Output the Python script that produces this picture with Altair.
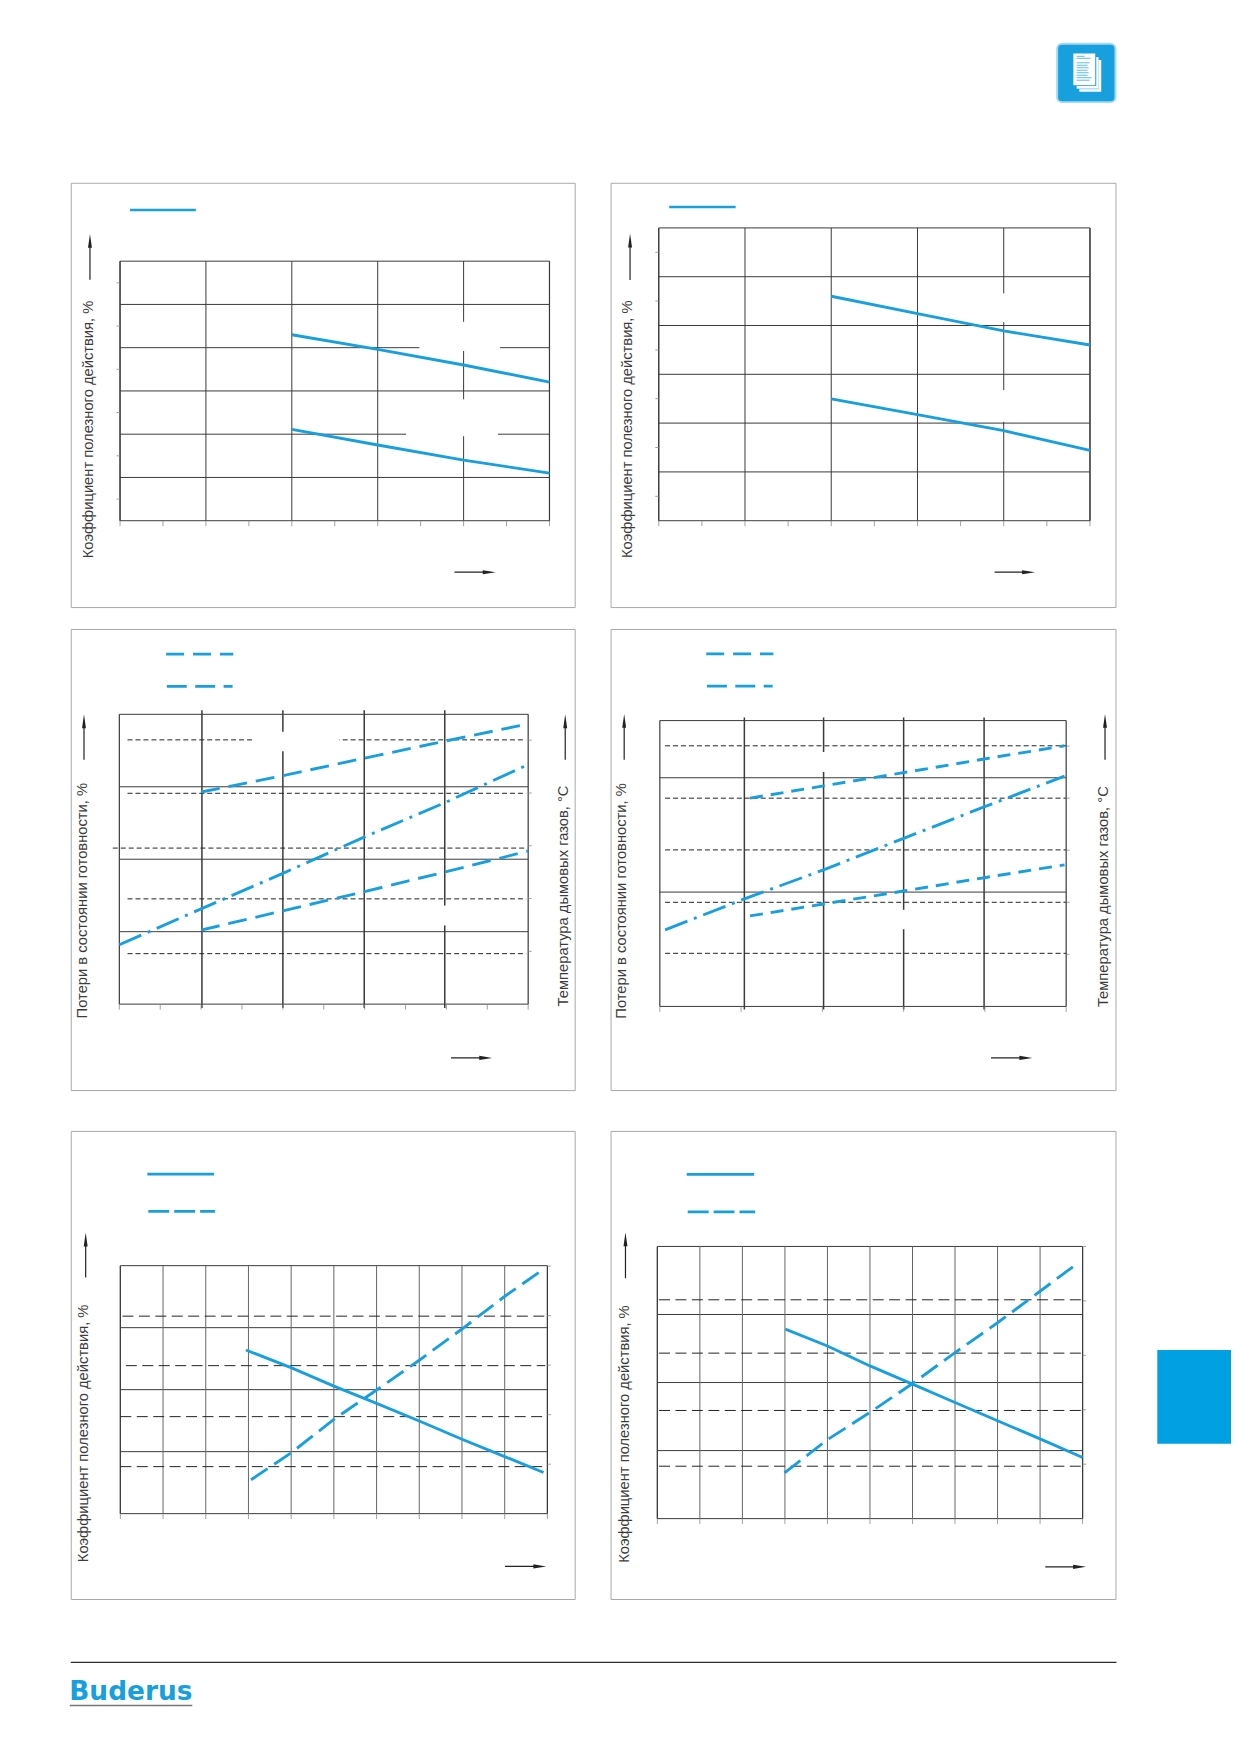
import altair as alt

BLUE = "#189fdd"
DARK = "#3a3a3a"
FRAME = "#a8a8a8"
TEXT = "#3c3c3c"
FONT = "Liberation Sans"

LABEL_EFF = "Коэффициент полезного действия, %"
LABEL_LOSS = "Потери в состоянии готовности, %"
LABEL_TEMP = "Температура дымовых газов, °C"

# --- panel 1
p1_x = [40, 60, 80, 100]
p1_upper = [92.6, 91.92, 91.2, 90.41]
p1_lower = [88.22, 87.5, 86.8, 86.2]
# --- panel 2
p2_x = [40, 60, 80, 100]
p2_upper = [93.2, 92.49, 91.78, 91.2]
p2_lower = [88.99, 88.35, 87.69, 86.88]
# --- panel 3
p3_x_temp = [20, 40, 60, 80, 100]
p3_temp_upper = [200.9, 216.4, 233, 249.4, 265.4]
p3_temp_lower = [70.1, 88.4, 106.6, 125.5, 145]
p3_x_loss = [0, 20, 40, 60, 80, 99.5]
p3_loss = [0.82, 1.315, 1.805, 2.309, 2.79, 3.294]
p3_temp_levels = [47.8, 99.7, 147.8, 199.7, 250.3]
# --- panel 4
p4_x_temp = [22.2, 40.3, 60, 79.8, 99.6]
p4_temp_upper = [200, 211.8, 224.5, 237.6, 250.3]
p4_temp_lower = [86.9, 98.4, 110.8, 123.6, 136]
p4_x_loss = [1.3, 20.8, 40.3, 60, 79.8, 99.6]
p4_loss = [1.34, 1.88, 2.39, 2.94, 3.49, 4.03]
p4_temp_levels = [51, 100, 150.3, 200, 250.3]
# --- panel 5
p5_x_solid = [29.4, 40.1, 50, 60, 70, 80, 90, 99.1]
p5_solid = [2.64, 2.35, 2.056, 1.778, 1.494, 1.2, 0.921, 0.664]
p5_x_dash = [30.6, 40.1, 50, 60, 70, 80, 90, 99.3]
p5_dash = [0.685, 1.235, 1.906, 2.497, 3.1, 3.73, 4.39, 4.95]
p5_levels = [0.95, 1.96, 2.99, 3.99]
# --- panel 6
p6_x_solid = [30.1, 40, 50, 60, 70, 80, 90, 100]
p6_solid = [2.785, 2.537, 2.244, 1.976, 1.707, 1.439, 1.171, 0.898]
p6_x_dash = [29.9, 40, 50, 60, 70, 80, 90, 99.1]
p6_dash = [0.841, 1.451, 1.951, 2.482, 3.049, 3.598, 4.177, 4.707]
p6_levels = [0.963, 1.987, 3.04, 4.02]

ONE = alt.Data(values=[{"a": 1}])


def px_rule(x0, x1, y0, y1, color, width, dash=None):
    kw = {"color": color, "strokeWidth": width}
    if dash:
        kw["strokeDash"] = dash
    return alt.Chart(ONE).mark_rule(**kw).encode(
        x=alt.value(x0), x2=alt.value(x1), y=alt.value(y0), y2=alt.value(y1))


def px_vrule(x, y0, y1, color, width):
    return alt.Chart(ONE).mark_rule(color=color, strokeWidth=width).encode(
        x=alt.value(x), y=alt.value(y0), y2=alt.value(y1))


def px_rect(x0, x1, y0, y1, color, **kw):
    return alt.Chart(ONE).mark_rect(color=color, **kw).encode(
        x=alt.value(x0), x2=alt.value(x1), y=alt.value(y0), y2=alt.value(y1))


def arrow_up(x, tail, tip):
    head = "M0,-1L0.28,1L-0.28,1Z"
    return [
        px_vrule(x, tail, tip + 8, "#222222", 1.2),
        alt.Chart(ONE).mark_point(shape=head, filled=True, size=196, color="#222222", opacity=1)
        .encode(x=alt.value(x), y=alt.value(tip + 7)),
    ]


def arrow_right(y, tail, tip):
    head = "M1,0L-1,0.32L-1,-0.32Z"
    return [
        alt.Chart(ONE).mark_rule(color="#222222", strokeWidth=1.2).encode(
            x=alt.value(tail), x2=alt.value(tip - 8), y=alt.value(y)),
        alt.Chart(ONE).mark_point(shape=head, filled=True, size=169, color="#222222", opacity=1)
        .encode(x=alt.value(tip - 6.5), y=alt.value(y)),
    ]


def vtext(txt, x, y, size=14.8):
    return alt.Chart(ONE).mark_text(
        text=txt, angle=270, align="left", baseline="middle",
        font=FONT, fontSize=size, color=TEXT,
    ).encode(x=alt.value(x), y=alt.value(y))


def panel(w, h, plot, ydom, major_x, minor_x, major_y, minor_y, curves, levels=None, ydom2=None,
          level_cfg=None, masks=(), keys=(), vwidth=1.0, vcolor=DARK, hwidth=1.0, ext=0, right_ticks=None,
          hlines=None, arrows=(), texts=()):
    l, r, t, b = plot
    xs = alt.Scale(domain=[0, 100], range=[l, r])
    ys = alt.Scale(domain=list(ydom), range=[b, t])
    ys2 = alt.Scale(domain=list(ydom2), range=[b, t]) if ydom2 else ys
    ux = 100 / (r - l)
    uy = (ydom[1] - ydom[0]) / (b - t)
    X = alt.X("x:Q", scale=xs, axis=None)
    Y = alt.Y("y:Q", scale=ys, axis=None)
    Y_2 = alt.Y("y:Q", scale=ys2, axis=None)
    X2 = alt.X2(field="x2")
    YY2 = alt.Y2(field="y2")
    layers = []

    hl = hlines if hlines is not None else major_y
    layers.append(alt.Chart(alt.Data(values=[{"x": 0, "x2": 100, "y": v} for v in hl]))
                  .mark_rule(color=DARK, strokeWidth=hwidth).encode(x=X, x2=X2, y=Y))
    layers.append(alt.Chart(alt.Data(values=[{"x": v, "y": ydom[0] - ext * uy, "y2": ydom[1] + ext * uy}
                                             for v in major_x]))
                  .mark_rule(color=vcolor, strokeWidth=vwidth).encode(x=X, y=Y, y2=YY2))
    # side frame of the plot
    layers.append(alt.Chart(alt.Data(values=[{"x": v, "y": ydom[0], "y2": ydom[1]} for v in (0, 100)]))
                  .mark_rule(color=DARK, strokeWidth=1.2).encode(x=X, y=Y, y2=YY2))
    # axis ticks
    layers.append(alt.Chart(alt.Data(values=[{"x": v, "y": ydom[0], "y2": ydom[0] - 5.5 * uy}
                                             for v in minor_x]))
                  .mark_rule(color="#8a8a8a", strokeWidth=0.8).encode(x=X, y=Y, y2=YY2))
    layers.append(alt.Chart(alt.Data(values=[{"x": -3.5 * ux, "x2": 0, "y": v} for v in minor_y]))
                  .mark_rule(color="#8a8a8a", strokeWidth=0.8).encode(x=X, x2=X2, y=Y))
    if right_ticks:
        layers.append(alt.Chart(alt.Data(values=[{"x": 100, "x2": 100 + 3.5 * ux, "y": v} for v in right_ticks]))
                      .mark_rule(color="#8a8a8a", strokeWidth=0.8).encode(x=X, x2=X2, y=Y_2))
    if levels:
        for (v, x0, x1) in levels:
            layers.append(alt.Chart(alt.Data(values=[{"x": x0, "x2": x1, "y": v}]))
                          .mark_rule(**level_cfg).encode(x=X, x2=X2, y=Y_2))
    if masks:
        layers.append(alt.Chart(alt.Data(values=[{"x": a, "x2": c, "y": d, "y2": e} for a, c, d, e in masks]))
                      .mark_rect(color="white").encode(x=X, x2=X2, y=Y, y2=YY2))
    for cx, cy, right, dash in curves:
        kw = {"color": BLUE, "strokeWidth": 2.9}
        if dash:
            kw["strokeDash"] = dash
        layers.append(alt.Chart(alt.Data(values=[{"x": a, "y": c} for a, c in zip(cx, cy)]))
                      .mark_line(**kw).encode(x=X, y=Y_2 if right else Y))
    for x0, x1, y0, dash in keys:
        layers.append(px_rule(x0, x1, y0, y0, BLUE, 2.7, dash))
    for a in arrows:
        layers.extend(a)
    layers.extend(texts)
    return alt.layer(*layers).resolve_scale(y="independent").properties(
        width=w, height=h, view=alt.ViewBackground(stroke=FRAME, strokeWidth=1))


tens = list(range(0, 101, 10))
twenties = list(range(0, 101, 20))
short = dict(color="#222222", strokeWidth=1, strokeDash=[5, 3])
longd = dict(color="#222222", strokeWidth=1, strokeDash=[11, 5.5])

p1 = panel(506, 426, (49.5, 480.7, 78.7, 339.3), (84, 96), twenties, tens,
           [84, 86, 88, 90, 92, 94, 96], [85, 87, 89, 91, 93, 95],
           [(p1_x, p1_upper, False, None), (p1_x, p1_lower, False, None)],
           masks=[(69.7, 88.5, 91.85, 93.2), (66.6, 88, 87.9, 89.62)],
           keys=[(59.6, 125.6, 27.3, None)],
           arrows=[arrow_up(19.3, 97.3, 51.3), arrow_right(391, 385.3, 426.7)],
           texts=[vtext(LABEL_EFF, 17.9, 377)])

p2 = panel(507, 426, (48.4, 481.4, 45.3, 339.3), (84, 96), twenties, tens,
           [84, 86, 88, 90, 92, 94, 96], [85, 87, 89, 91, 93, 95],
           [(p2_x, p2_upper, False, None), (p2_x, p2_lower, False, None)],
           masks=[(79, 81, 92.14, 93.32), (79, 81, 88.05, 89.35)],
           keys=[(58.9, 125.6, 24.3, None)],
           arrows=[arrow_up(19.6, 97.7, 51), arrow_right(391, 385.6, 426.3)],
           texts=[vtext(LABEL_EFF, 17.9, 376.7)])

p3_lv = [(v, 2, 99.5) for v in p3_temp_levels]
p3_lv[2] = (p3_temp_levels[2], -1.6, 99.5)
p3 = panel(506, 463, (48.8, 459.3, 85.7, 376.7), (0, 4), [20.2, 40, 59.9, 79.6], tens,
           [0, 1, 2, 3, 4], [],
           [(p3_x_temp, p3_temp_upper, True, [19, 9]), (p3_x_temp, p3_temp_lower, True, [19, 9]),
            (p3_x_loss, p3_loss, False, [24, 7, 3, 7])],
           levels=p3_lv, ydom2=(0, 274.5), level_cfg=short,
           masks=[(32.8, 53.8, 3.49, 3.76), (78, 81, 1.086, 1.36)],
           keys=[(95.8, 163.2, 25.3, [18, 9]), (96.5, 162.5, 57.7, [20, 8.5])],
           vwidth=1.5, ext=4, right_ticks=[50, 100, 150, 200, 250],
           arrows=[arrow_up(13.3, 131.3, 85.7), arrow_up(496.5, 131.3, 85.7), arrow_right(430.7, 381.8, 423.2)],
           texts=[vtext(LABEL_LOSS, 12.3, 391), vtext(LABEL_TEMP, 495, 379)])

p4 = panel(507, 463, (49.5, 457.5, 92, 379), (0, 5), [20.8, 40.3, 60, 79.8], twenties,
           [0, 2, 4, 5], [],
           [(p4_x_temp, p4_temp_upper, True, [13, 8]), (p4_x_temp, p4_temp_lower, True, [13, 8]),
            (p4_x_loss, p4_loss, False, [24, 7, 3, 7])],
           levels=[(v, 1.3, 100) for v in p4_temp_levels], ydom2=(0, 274.5), level_cfg=short,
           masks=[(39, 41.5, 4.10, 4.45), (59, 61, 1.35, 1.69)],
           keys=[(96.1, 163.5, 25, [18, 9]), (96.8, 162.8, 57.3, [20, 8.5])],
           vwidth=1.5, ext=3, right_ticks=[50, 100, 150, 200, 250],
           arrows=[arrow_up(13.7, 131.3, 85.3), arrow_up(496.5, 131.3, 85.3), arrow_right(430.7, 382, 423.5)],
           texts=[vtext(LABEL_LOSS, 11.9, 391.3), vtext(LABEL_TEMP, 495, 379.7)])

p5_starts = [0, 0, 1.3, 0.5]
p5 = panel(506, 470, (49.8, 478.6, 135.3, 384.3), (0, 4), tens, tens,
           [0, 1, 2, 3, 4], [],
           [(p5_x_solid, p5_solid, False, None), (p5_x_dash, p5_dash, True, [20, 8])],
           levels=[(v, s, 99.5) for v, s in zip(p5_levels, p5_starts)], ydom2=(0, 5.01), level_cfg=longd,
           keys=[(76.9, 143.9, 43.3, None), (77.9, 144.9, 80.7, [21, 5])],
           vwidth=1.0, vcolor="#666666", right_ticks=[1, 2, 3, 4, 5],
           arrows=[arrow_up(15, 147.3, 102), arrow_right(437.3, 436, 477.5)],
           texts=[vtext(LABEL_EFF, 13.7, 433)])

p6 = panel(507, 470, (47, 474, 116, 389.3), (0, 4), tens, tens,
           [0, 1, 2, 3, 4], [],
           [(p6_x_solid, p6_solid, False, None), (p6_x_dash, p6_dash, True, [20, 8])],
           levels=[(v, 0.4, 100.6) for v in p6_levels], ydom2=(0, 5), level_cfg=longd,
           keys=[(76.5, 144.2, 43.7, None), (77.5, 145.2, 81.3, [21, 5])],
           vwidth=1.0, vcolor="#666666", right_ticks=[1, 2, 3, 4, 5],
           arrows=[arrow_up(15, 148, 101.7), arrow_right(437.7, 436.5, 477.5)],
           texts=[vtext(LABEL_EFF, 14.4, 433.7)])

# --- page furniture
header_layers = [
    px_rect(990.4, 1049, 32.3, 91, BLUE, cornerRadius=5, stroke="#a5dcf3", strokeWidth=2),
    px_rect(1012.7, 1034.7, 48.8, 80.5, "white"),
    px_rect(1009, 1032, 44.8, 78, BLUE),
    px_rect(1010, 1032, 45.8, 77.5, "white"),
    px_rect(1007.7, 1029.7, 41.3, 74.7, BLUE),
    px_rect(1006.7, 1028.7, 42.3, 74, "white"),
]
for a, y in [(1018, 45), (1024, 47), (1023, 51.5), (1021, 54), (1022, 56.5),
             (1021, 59), (1022, 61.5), (1021, 64), (1025, 66.5), (1023, 69)]:
    header_layers.append(px_rule(1010, a, y, y, "#4fb3e3", 0.9))
header = alt.layer(*header_layers).properties(width=1050, height=148)

tab = px_rect(6, 80, 220, 314, "#00a0e3").properties(width=80, height=470)

footer = alt.layer(
    px_rule(0, 1050, 52.7, 52.7, "#2b2b2b", 1.2),
    alt.Chart(ONE).mark_text(text="Buderus", font="DejaVu Sans", fontWeight="bold", fontSize=26.5,
                             color=BLUE, align="left", baseline="alphabetic")
    .encode(x=alt.value(-1.5), y=alt.value(90.7)),
    px_rule(-1, 122, 96, 96, "#777777", 1.6),
).properties(width=1050, height=110)

row1 = alt.hconcat(p1, p2, spacing=36, bounds="flush")
row2 = alt.hconcat(p3, p4, spacing=36, bounds="flush")
row3 = alt.hconcat(p5, p6, tab, spacing=36, bounds="flush")

top = alt.vconcat(row1, row2, spacing=20)
top = alt.vconcat(header, top, spacing=23)
top = alt.vconcat(top, row3, spacing=39)
chart = alt.vconcat(top, footer, spacing=10).properties(
    padding={"left": 61, "top": 0, "right": 0, "bottom": 0}
).configure_view(strokeWidth=0)

chart.save("out.html", embed_options={"renderer": "svg", "actions": False})
